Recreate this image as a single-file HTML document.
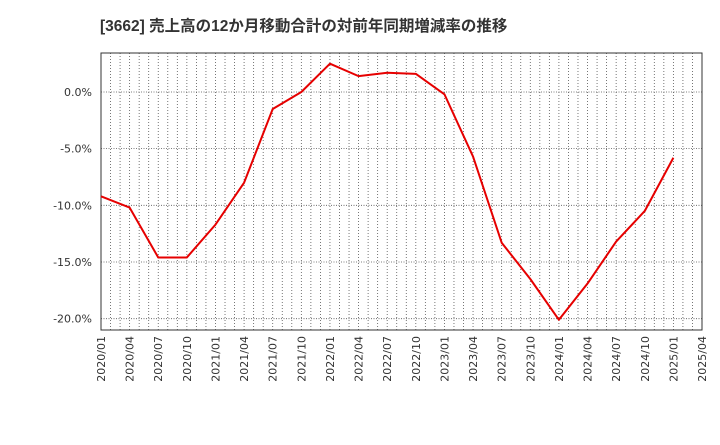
<!DOCTYPE html>
<html><head><meta charset="utf-8"><style>
body{margin:0;background:#fff;}
svg text{font-family:"Liberation Sans","Noto Sans CJK JP",sans-serif;}
svg text.tick{font-family:"DejaVu Sans",sans-serif;}
</style></head><body>
<svg id="chart" width="720" height="440" xmlns="http://www.w3.org/2000/svg">
<text x="100" y="31" font-size="15.5" font-weight="bold" fill="#333">[3662]  売上高の12か月移動合計の対前年同期増減率の推移</text>
<g id="grid"></g>
<rect x="101" y="53" width="601" height="277" fill="none" stroke="#333" stroke-width="1"/>
<g id="marks"></g>
</svg>
<script>
const categories=["2020/01","2020/04","2020/07","2020/10","2021/01","2021/04","2021/07","2021/10","2022/01","2022/04","2022/07","2022/10","2023/01","2023/04","2023/07","2023/10","2024/01","2024/04","2024/07","2024/10","2025/01","2025/04"];
const values=[-9.2,-10.2,-14.6,-14.6,-11.7,-8.0,-1.5,0.0,2.5,1.4,1.7,1.6,-0.2,-5.7,-13.3,-16.5,-20.1,-16.9,-13.2,-10.5,-5.8];
const yTicks=[0,-5,-10,-15,-20];
const yTickLabels=["0.0%","-5.0%","-10.0%","-15.0%","-20.0%"];
const ns="http://www.w3.org/2000/svg";
const L=101,R=702,T=53,B=330,yMax=3.44,yMin=-21.0;
const x=i=>L+(R-L)*i/(categories.length-1);
const y=v=>T+(B-T)*(yMax-v)/(yMax-yMin);
function mk(tag,attrs,parent){const e=document.createElementNS(ns,tag);for(const k in attrs)e.setAttribute(k,attrs[k]);parent.appendChild(e);return e;}
const grid=document.getElementById('grid'),marks=document.getElementById('marks');
const nMonths=(categories.length-1)*3;
for(let m=1;m<nMonths;m++){const xx=L+(R-L)*m/nMonths;
 const ln=mk('line',{x1:xx,x2:xx,y1:T,y2:B,stroke:'#555','stroke-width':0.8,'stroke-dasharray':'1,2'},grid);
 
 }
yTicks.forEach((v,i)=>{const yy=y(v);
 const ln=mk('line',{x1:L,x2:R,y1:yy,y2:yy,stroke:'#555','stroke-width':0.8,'stroke-dasharray':'1,1.5'},grid);
 
 
 const t=mk('text',{class:'tick',x:L-9,y:yy+4,'text-anchor':'end','font-size':11,fill:'#333'},grid);t.textContent=yTickLabels[i];
 
 });
categories.forEach((c,i)=>{const xx=x(i);
 const t=mk('text',{class:'tick',x:xx+4,y:B+6,'text-anchor':'end','font-size':11,fill:'#333',transform:`rotate(-90 ${xx+4} ${B+6})`},grid);t.textContent=c;
 
 });
const pts=values.map((v,i)=>x(i)+','+y(v)).join(' ');
const pl=mk('polyline',{points:pts,fill:'none',stroke:'#e60000','stroke-width':2,'stroke-linejoin':'round'},marks);


</script>
</body></html>
